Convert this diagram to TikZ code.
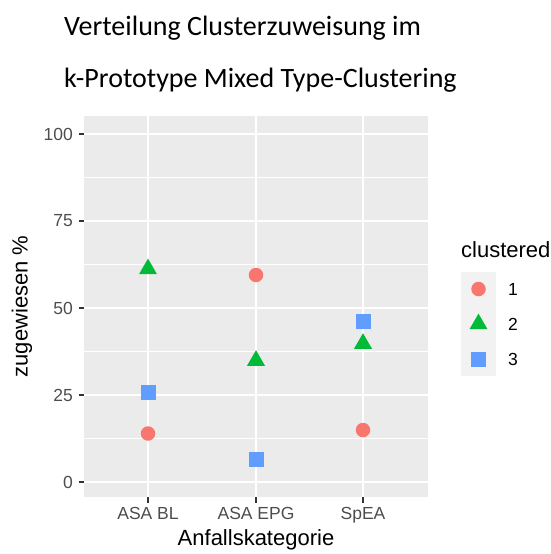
\documentclass[tikz,border=0pt]{standalone}
\usepackage{fontspec}
\setmainfont{Liberation Sans}
\newfontfamily\titlefont{Carlito}
\usetikzlibrary{shapes.geometric}
\definecolor{c1}{HTML}{F8766D}
\definecolor{c2}{HTML}{00BA38}
\definecolor{c3}{HTML}{619CFF}
\definecolor{panelbg}{HTML}{EBEBEB}
\definecolor{keybg}{HTML}{F2F2F2}
\definecolor{tickcol}{HTML}{333333}
\definecolor{ticktext}{HTML}{4D4D4D}
\tikzset{
  x=1pt, y=-1pt,
  mk1/.style={circle, fill=c1, minimum size=14.5pt, inner sep=0pt},
  mk2/.style={regular polygon, regular polygon sides=3, fill=c2, minimum size=20.8pt, inner sep=0pt},
  mk3/.style={rectangle, fill=c3, minimum size=15pt, inner sep=0pt},
  majorgrid/.style={white, line width=1.9pt},
  minorgrid/.style={white, line width=0.95pt},
  tickmark/.style={tickcol, line width=1.1pt},
  ticklab/.style={text=ticktext, font=\fontsize{17.5}{20}\selectfont, inner sep=0pt},
  axtitle/.style={text=black, font=\fontsize{22}{26}\selectfont, inner sep=0pt},
  titletext/.style={font=\titlefont\fontsize{28}{32}\selectfont, inner sep=0pt, anchor=base west},
}
\begin{document}
\begin{tikzpicture}
\useasboundingbox (0,0) rectangle (550,554);
% title
\node[titletext] (t1) at (64,35) {Verteilung Clusterzuweisung im};
\node[titletext] (t2) at (64,87) {k-Prototype Mixed Type-Clustering};
% panel
\fill[panelbg] (84,116) rectangle (428,497);
% minor grid
\foreach \y in {438.5,351.5,264.5,177.5} \draw[minorgrid] (84,\y) -- (428,\y);
% major grid
\foreach \y in {482,395,308,221,134} \draw[majorgrid] (84,\y) -- (428,\y);
\foreach \x in {148,256,363} \draw[majorgrid] (\x,116) -- (\x,497);
% y ticks
\foreach \y/\l in {482/0,395/25,308/50,221/75,134/100} {
  \draw[tickmark] (78.5,\y) -- (84,\y);
  \node[ticklab, anchor=east] at (73,\y) {\l};
}
% x ticks
\foreach \x/\l in {148/ASA BL,256/ASA EPG,363/SpEA} {
  \draw[tickmark] (\x,497) -- (\x,502.5);
  \node[ticklab, anchor=north] at (\x,507.5) {\l};
}
% axis titles
\node[axtitle] (xt) at (256,540) {Anfallskategorie};
\node[axtitle, rotate=90] (yt) at (22,306.5) {zugewiesen \%};
% data
\node[mk2] (a2) at (148,269) {};
\node[mk3] (a3) at (148,392.5) {};
\node[mk1] (a1) at (148,433.5) {};
\node[mk1] (b1) at (256,275) {};
\node[mk2] (b2) at (256,360.6) {};
\node[mk3] (b3) at (256,459) {};
\node[mk3] (s3) at (363,321) {};
\node[mk2] (s2) at (363,343.6) {};
\node[mk1] (s1) at (363,430) {};
% legend
\node[axtitle, anchor=base west] (lt) at (461,257) {clustered};
\fill[keybg] (461,272) rectangle (496,376);
\node[mk1] (l1) at (478.5,289) {};
\node[mk2] (l2) at (478.5,324) {};
\node[mk3] (l3) at (478.5,359) {};
\node[ticklab, text=black, anchor=west] (n1) at (508,289) {1};
\node[ticklab, text=black, anchor=west] (n2) at (508,324) {2};
\node[ticklab, text=black, anchor=west] (n3) at (508,359) {3};
\end{tikzpicture}
\end{document}
